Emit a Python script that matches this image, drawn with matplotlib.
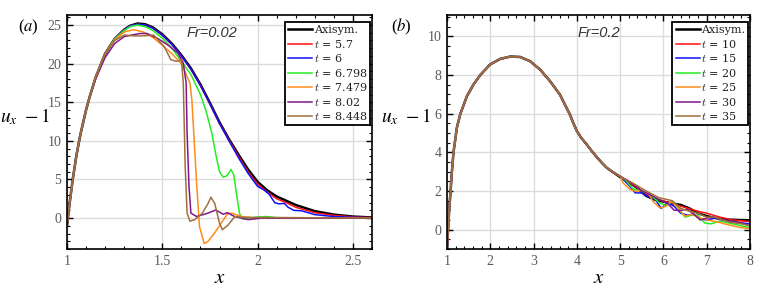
import numpy as np
import matplotlib
matplotlib.use("Agg")
import matplotlib.pyplot as plt
from matplotlib.ticker import MultipleLocator

plt.rcParams['font.family'] = ['Liberation Serif', 'DejaVu Serif']

# ---------------- panel (a): Fr = 0.02 ----------------
a_labels = ['Axisym.', '$t$ = 5.7', '$t$ = 6', '$t$ = 6.798', '$t$ = 7.479', '$t$ = 8.02', '$t$ = 8.448']

a_axi_x = [1.0, 1.01, 1.03, 1.05, 1.07, 1.1, 1.12, 1.15, 1.2, 1.25, 1.3, 1.33, 1.37, 1.41, 1.45, 1.5,
           1.55, 1.6, 1.65, 1.7, 1.75, 1.8, 1.85, 1.9, 1.95, 2.0, 2.05, 2.1, 2.2, 2.3, 2.4, 2.5, 2.6]
a_axi_y = [-1.0, 1.2, 5.0, 8.2, 10.8, 14.0, 15.8, 18.2, 21.3, 23.2, 24.4, 24.9, 25.2, 25.1, 24.7, 23.8,
           22.6, 21.1, 19.4, 17.3, 14.9, 12.4, 10.2, 8.2, 6.3, 4.7, 3.6, 2.8, 1.7, 0.9, 0.45, 0.2, 0.08]

a_t57_x = [1.0, 1.01, 1.03, 1.05, 1.07, 1.1, 1.12, 1.15, 1.2, 1.25, 1.3, 1.33, 1.37, 1.41, 1.45, 1.5,
           1.55, 1.6, 1.65, 1.7, 1.75, 1.8, 1.85, 1.9, 1.95, 2.0, 2.05, 2.1, 2.15, 2.2, 2.3, 2.4, 2.5, 2.6]
a_t57_y = [-1.0, 1.2, 5.0, 8.2, 10.8, 14.0, 15.8, 18.2, 21.3, 23.2, 24.4, 24.9, 25.1, 25.0, 24.6, 23.7,
           22.5, 21.0, 19.3, 17.2, 14.8, 12.3, 10.1, 8.0, 6.0, 4.4, 3.4, 2.5, 2.0, 1.4, 0.7, 0.35, 0.15, 0.06]

a_t6_x = [1.0, 1.01, 1.03, 1.05, 1.07, 1.1, 1.12, 1.15, 1.2, 1.25, 1.3, 1.33, 1.37, 1.41, 1.45, 1.5,
          1.55, 1.6, 1.65, 1.7, 1.75, 1.8, 1.85, 1.9, 1.95, 2.0, 2.03, 2.06, 2.09, 2.11, 2.14, 2.16,
          2.19, 2.23, 2.3, 2.4, 2.5, 2.6]
a_t6_y = [-1.0, 1.2, 5.0, 8.2, 10.8, 14.0, 15.8, 18.2, 21.3, 23.2, 24.4, 24.9, 25.1, 25.0, 24.6, 23.7,
          22.5, 21.0, 19.3, 17.2, 14.8, 12.3, 10.0, 7.8, 5.8, 4.1, 3.7, 3.1, 2.0, 1.85, 1.9, 1.4,
          1.0, 0.95, 0.45, 0.2, 0.1, 0.05]

a_t68_x = [1.0, 1.01, 1.03, 1.05, 1.07, 1.1, 1.12, 1.15, 1.2, 1.25, 1.3, 1.33, 1.37, 1.41, 1.45, 1.5,
           1.55, 1.6, 1.65, 1.7, 1.73, 1.76, 1.78, 1.8, 1.82, 1.84, 1.86, 1.875, 1.89, 1.905, 1.92,
           1.95, 2.0, 2.05, 2.1, 2.6]
a_t68_y = [-1.0, 1.2, 5.0, 8.2, 10.8, 14.0, 15.8, 18.2, 21.3, 23.2, 24.3, 24.8, 25.0, 24.8, 24.3, 23.3,
           22.0, 20.3, 18.6, 16.0, 13.8, 11.0, 8.3, 6.0, 5.3, 5.5, 6.3, 5.6, 3.0, 0.6, -0.1,
           -0.05, 0.15, 0.2, 0.05, 0.0]

a_t75_x = [1.0, 1.01, 1.03, 1.05, 1.07, 1.1, 1.12, 1.15, 1.2, 1.25, 1.3, 1.35, 1.4, 1.45, 1.5, 1.55,
           1.6, 1.645, 1.655, 1.665, 1.68, 1.695, 1.72, 1.74, 1.775, 1.81, 1.845, 1.87, 1.915, 1.985, 2.6]
a_t75_y = [-1.0, 1.2, 5.0, 8.2, 10.8, 14.0, 15.8, 18.2, 21.3, 23.1, 24.1, 24.4, 24.1, 23.4, 22.4, 21.3,
           20.0, 17.5, 15.3, 11.0, 4.5, -1.1, -3.3, -3.0, -1.9, -0.6, 0.65, 0.6, 0.2, 0.0, 0.0]

a_t80_x = [1.0, 1.01, 1.03, 1.05, 1.07, 1.1, 1.12, 1.15, 1.2, 1.25, 1.3, 1.38, 1.42, 1.48, 1.53, 1.58,
           1.61, 1.625, 1.63, 1.64, 1.65, 1.68, 1.7, 1.74, 1.78, 1.82, 1.84, 1.88, 1.95, 2.02, 2.6]
a_t80_y = [-1.0, 1.2, 5.0, 8.2, 10.8, 14.0, 15.8, 18.0, 20.8, 22.6, 23.5, 23.9, 23.9, 23.2, 22.4, 21.4,
           20.1, 17.5, 11.0, 4.1, 0.65, 0.2, 0.35, 0.65, 1.05, 0.5, 0.7, 0.2, -0.2, 0.0, 0.0]

a_t84_x = [1.0, 1.01, 1.03, 1.05, 1.07, 1.1, 1.12, 1.15, 1.2, 1.25, 1.3, 1.35, 1.4, 1.455, 1.51, 1.545,
           1.575, 1.6, 1.61, 1.62, 1.63, 1.645, 1.67, 1.71, 1.74, 1.755, 1.775, 1.8, 1.815, 1.845, 1.88,
           1.93, 2.6]
a_t84_y = [-1.0, 1.2, 5.0, 8.2, 10.8, 14.0, 15.8, 18.2, 21.3, 23.0, 23.7, 23.6, 23.6, 23.7, 22.2, 20.5,
           20.3, 20.5, 17.5, 6.7, 0.65, -0.4, -0.2, 0.65, 1.9, 2.7, 1.9, -0.65, -1.5, -0.9, 0.2,
           0.1, 0.0]

# ---------------- panel (b): Fr = 0.2 ----------------
b_labels = ['Axisym.', '$t$ = 10', '$t$ = 15', '$t$ = 20', '$t$ = 25', '$t$ = 30', '$t$ = 35']

# common part of all curves for x < 5
b_base_x = [1.0, 1.02, 1.05, 1.08, 1.11, 1.15, 1.23, 1.31, 1.46, 1.61, 1.77, 2.0, 2.23, 2.46, 2.69,
            2.92, 3.15, 3.38, 3.61, 3.84, 3.92, 4.0, 4.1, 4.23, 4.35, 4.46, 4.58, 4.69, 4.85]
b_base_y = [-1.0, -0.2, 1.0, 1.9, 2.9, 4.0, 5.3, 6.0, 6.9, 7.5, 8.0, 8.55, 8.83, 8.95, 8.93,
            8.71, 8.28, 7.68, 6.98, 5.95, 5.5, 5.1, 4.75, 4.4, 4.05, 3.75, 3.45, 3.2, 2.95]

b_axi_x = [5.0, 5.2, 5.4, 5.6, 5.8, 6.0, 6.2, 6.4, 6.6, 6.8, 7.0, 7.2, 7.5, 8.0]
b_axi_y = [2.72, 2.45, 2.15, 1.75, 1.55, 1.45, 1.35, 1.28, 1.1, 0.85, 0.7, 0.6, 0.52, 0.48]

b_t10_x = [5.0, 5.3, 5.6, 5.9, 6.2, 6.5, 6.8, 7.0, 7.3, 7.6, 8.0]
b_t10_y = [2.76, 2.3, 1.85, 1.55, 1.35, 1.15, 0.95, 0.85, 0.65, 0.5, 0.42]

b_t15_x = [5.0, 5.2, 5.35, 5.5, 5.65, 5.8, 5.95, 6.1, 6.25, 6.4, 6.55, 6.7, 6.85, 7.0, 7.2, 7.4, 7.6,
           7.8, 8.0]
b_t15_y = [2.76, 2.3, 1.9, 1.9, 1.7, 1.6, 1.1, 1.4, 1.2, 0.85, 0.75, 0.8, 0.55, 0.5, 0.6, 0.5, 0.4,
           0.35, 0.3]

b_t20_x = [5.0, 5.15, 5.3, 5.5, 5.7, 5.9, 6.05, 6.2, 6.35, 6.5, 6.65, 6.8, 6.95, 7.1, 7.3, 7.5, 7.7,
           8.0]
b_t20_y = [2.76, 2.5, 2.1, 2.0, 1.8, 1.4, 1.25, 1.45, 1.1, 0.65, 0.75, 0.75, 0.35, 0.3, 0.45, 0.35,
           0.25, 0.1]

b_t25_x = [5.0, 5.07, 5.23, 5.38, 5.53, 5.65, 5.76, 5.92, 6.05, 6.2, 6.35, 6.5, 6.7, 6.85, 7.0, 7.25,
           7.5, 7.75, 8.0]
b_t25_y = [2.76, 2.41, 2.07, 1.98, 2.07, 1.9, 1.46, 1.12, 1.2, 1.5, 1.05, 0.7, 0.8, 0.6, 0.5, 0.4,
           0.25, 0.12, 0.05]

b_t30_x = [5.0, 5.3, 5.5, 5.7, 5.9, 6.1, 6.25, 6.4, 6.55, 6.7, 6.85, 7.0, 7.15, 7.35, 7.6, 7.8, 8.0]
b_t30_y = [2.76, 2.35, 2.0, 1.8, 1.55, 1.35, 1.0, 1.0, 1.05, 0.8, 0.5, 0.6, 0.65, 0.5, 0.45, 0.35, 0.2]

b_t35_x = [5.0, 5.3, 5.6, 5.9, 6.2, 6.4, 6.6, 6.8, 7.0, 7.2, 7.5, 7.8, 8.0]
b_t35_y = [2.76, 2.4, 2.0, 1.65, 1.5, 1.1, 0.95, 0.85, 0.65, 0.65, 0.4, 0.3, 0.2]

colors = ['black', '#ff1010', '#1010ff', '#22ee22', '#ff8c1a', '#80188a', '#a0703c']
widths = [1.8, 1.1, 1.1, 1.1, 1.1, 1.1, 1.1]

a_series = [(a_axi_x, a_axi_y), (a_t57_x, a_t57_y), (a_t6_x, a_t6_y), (a_t68_x, a_t68_y),
            (a_t75_x, a_t75_y), (a_t80_x, a_t80_y), (a_t84_x, a_t84_y)]
b_tails = [(b_axi_x, b_axi_y), (b_t10_x, b_t10_y), (b_t15_x, b_t15_y), (b_t20_x, b_t20_y),
           (b_t25_x, b_t25_y), (b_t30_x, b_t30_y), (b_t35_x, b_t35_y)]
b_series = [(b_base_x + tx, b_base_y + ty) for tx, ty in b_tails]

W, H = 762, 293
fig = plt.figure(figsize=(W / 100, H / 100), dpi=100)
ax1 = fig.add_axes([67 / W, 1 - 249 / H, 305 / W, 234 / H])
ax2 = fig.add_axes([447 / W, 1 - 249 / H, 303 / W, 234 / H])


def style(ax, xlim, ylim, xmaj, xmin, ymaj, ymin):
    ax.set_xlim(*xlim)
    ax.set_ylim(*ylim)
    ax.xaxis.set_major_locator(MultipleLocator(xmaj))
    ax.xaxis.set_minor_locator(MultipleLocator(xmin))
    ax.yaxis.set_major_locator(MultipleLocator(ymaj))
    ax.yaxis.set_minor_locator(MultipleLocator(ymin))
    ax.tick_params(which='both', direction='in', top=True, right=True, colors='black',
                   labelcolor='#5a5a5a', labelsize=10, pad=4)
    ax.tick_params(which='major', length=4, width=1)
    ax.tick_params(which='minor', length=2.5, width=0.8)
    ax.grid(True, which='major', color='#dcdcdc', lw=1)
    ax.set_axisbelow(True)
    for s in ax.spines.values():
        s.set_linewidth(1.2)
    ax.set_xlabel('$x$', fontsize=15, math_fontfamily='stix', labelpad=1)


def legend(ax, labels):
    leg = ax.legend(labels, loc='upper right', bbox_to_anchor=(0.995, 0.97), fontsize=8,
                    handlelength=2.2, handletextpad=0.1, labelspacing=0.22, borderpad=0.3,
                    borderaxespad=0.0, fancybox=False, framealpha=1, edgecolor='black')
    leg.get_frame().set_linewidth(1.3)
    for t in leg.get_texts():
        t.set_math_fontfamily('cm')
        t.set_family('DejaVu Serif')
        t.set_color('#222222')


for (x, y), c, lw in zip(a_series, colors, widths):
    ax1.plot(x, y, color=c, lw=lw)
for (x, y), c, lw in zip(b_series, colors, widths):
    ax2.plot(x, y, color=c, lw=lw)

style(ax1, (1, 2.6), (-4, 26.3), 0.5, 0.1, 5, 1)
style(ax2, (1, 8), (-1, 11.1), 1, 0.2, 2, 0.5)
ax1.set_xticks([1, 1.5, 2, 2.5])
ax1.set_xticklabels(['1', '1.5', '2', '2.5'])

legend(ax1, a_labels)
legend(ax2, b_labels)

ax1.text(0.475, 0.925, 'Fr=0.02', transform=ax1.transAxes, fontsize=10.5, style='italic',
         family='Liberation Sans', color='#333333', ha='center', va='center')
ax2.text(0.5, 0.925, 'Fr=0.2', transform=ax2.transAxes, fontsize=10.5, style='italic',
         family='Liberation Sans', color='#333333', ha='center', va='center')

fig.text(28 / W, 1 - 27 / H, '($a$)', fontsize=12, math_fontfamily='stix', ha='center', va='center')
fig.text(401 / W, 1 - 27 / H, '($b$)', fontsize=12, math_fontfamily='stix', ha='center', va='center')
fig.text(25 / W, 1 - 117 / H, r'$u_{x}\ -1$', fontsize=14, math_fontfamily='stix', ha='center', va='center')
fig.text(406 / W, 1 - 117 / H, r'$u_{x}\ -1$', fontsize=14, math_fontfamily='stix', ha='center', va='center')

fig.savefig('out.png', dpi=100)
